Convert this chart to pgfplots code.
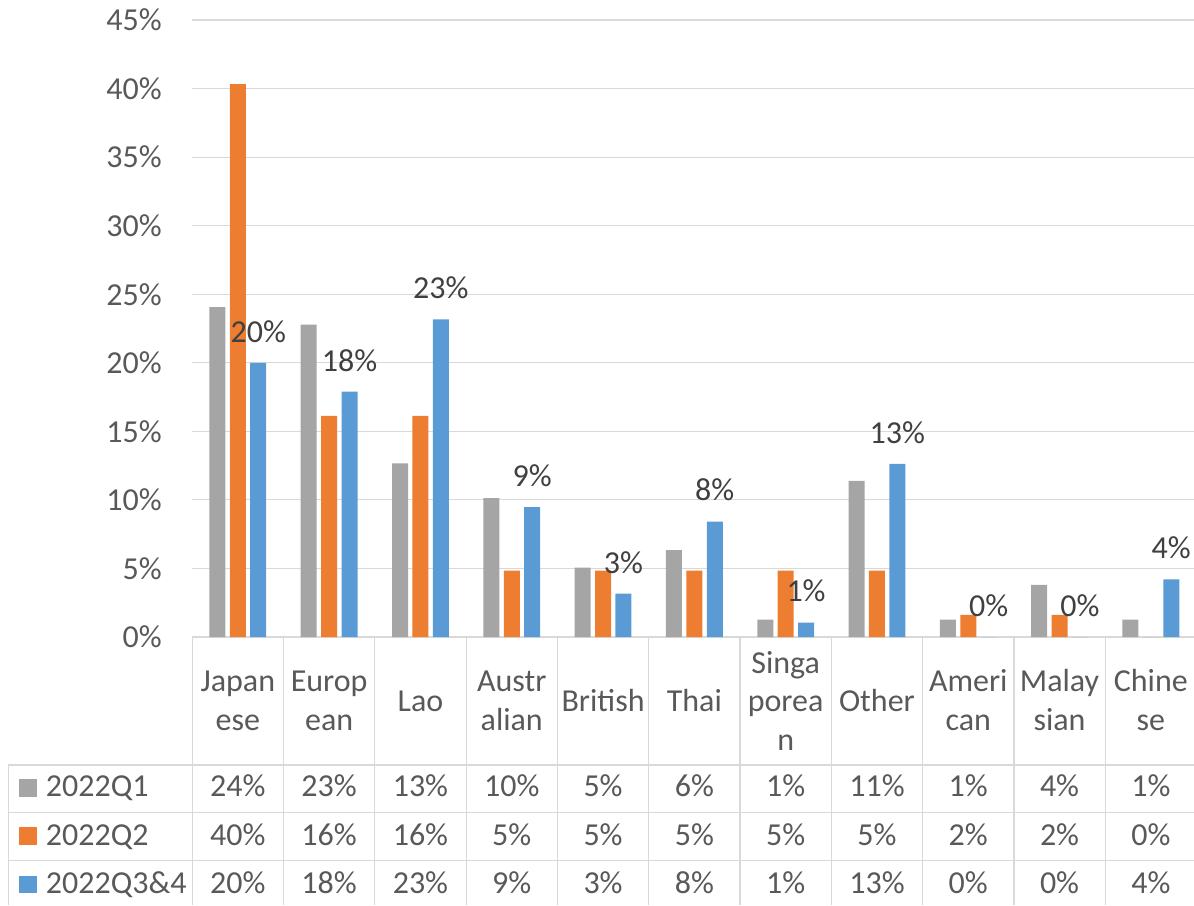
\documentclass[border=0pt]{standalone}
\usepackage{fontspec}
\setmainfont{Carlito}
\usepackage{pgfplots}
\pgfplotsset{compat=1.18}
\definecolor{sgray}{HTML}{A5A5A5}
\definecolor{sorange}{HTML}{ED7D31}
\definecolor{sblue}{HTML}{5B9BD5}
\definecolor{gridc}{HTML}{D9D9D9}
\definecolor{txt}{HTML}{595959}
\definecolor{lbl}{HTML}{404040}

\begin{document}
\begin{tikzpicture}[font=\fontsize{16pt}{19.2pt}\selectfont]
\begin{axis}[
  at={(0,0)}, anchor=south west, scale only axis,
  width=502.15pt, height=308.5pt,
  xmin=-0.5, xmax=10.5, ymin=0, ymax=45,
  ytick={0,5,...,45}, xtick=\empty,
  yticklabel={\pgfmathparse{int(round(\tick))}\pgfmathresult\%},
  yticklabel style={inner sep=0pt, xshift=-15pt, text=txt},
  ymajorgrids, grid style={gridc, line width=0.6pt},
  axis line style={draw=none}, major tick length=0pt,
  clip=false]
% 2022Q1
\addplot[ybar, bar width=8pt, bar shift=-10.2pt, fill=sgray, draw=none] coordinates
 {(0,24.05) (1,22.78) (2,12.66) (3,10.13) (4,5.06) (5,6.33) (6,1.27) (7,11.39) (8,1.27) (9,3.80) (10,1.27)};
% 2022Q2
\addplot[ybar, bar width=8pt, bar shift=0pt, fill=sorange, draw=none] coordinates
 {(0,40.32) (1,16.13) (2,16.13) (3,4.84) (4,4.84) (5,4.84) (6,4.84) (7,4.84) (8,1.61) (9,1.61) (10,0)};
% 2022Q3&4, with labels
\addplot[ybar, bar width=8pt, bar shift=10.2pt, fill=sblue, draw=none,
  point meta=y,
  nodes near coords={\pgfmathprintnumber[fixed,precision=0,assume math mode=true]{\pgfplotspointmeta}\%},
  nodes near coords style={text=lbl, anchor=south, inner sep=0pt, yshift=10pt, xshift=10.2pt}] coordinates
 {(0,20.00) (1,17.89) (2,23.16) (3,9.47) (4,3.16) (5,8.42) (6,1.05) (7,12.63) (8,0) (9,0) (10,4.21)};
\end{axis}

% data table below the plot
\foreach \k in {0,...,11}
  \draw[gridc, line width=0.6pt] ({\k*45.65pt},0pt) -- ({\k*45.65pt},-134pt);
\foreach \y in {-64,-87.85,-111.85}
  \draw[gridc, line width=0.6pt] (-91.85pt,\y pt) -- (502.15pt,\y pt);
\draw[gridc, line width=0.6pt] (-91.85pt,-64pt) -- (-91.85pt,-134pt);

\tikzset{cat/.style={anchor=base, inner sep=0pt, text=txt}}
\node[cat] at (22.825pt,-27.35pt) {Japan};
\node[cat] at (22.825pt,-46.5pt) {ese};
\node[cat] at (68.475pt,-27.35pt) {Europ};
\node[cat] at (68.475pt,-46.5pt) {ean};
\node[cat] at (114.125pt,-37.25pt) {Lao};
\node[cat] at (159.775pt,-27.35pt) {Austr};
\node[cat] at (159.775pt,-46.5pt) {alian};
\node[cat] at (205.425pt,-37.25pt) {British};
\node[cat] at (251.075pt,-37.25pt) {Thai};
\node[cat] at (296.725pt,-18pt) {Singa};
\node[cat] at (296.725pt,-37.25pt) {porea};
\node[cat] at (296.725pt,-56.5pt) {n};
\node[cat] at (342.375pt,-37.25pt) {Other};
\node[cat] at (388.025pt,-27.35pt) {Ameri};
\node[cat] at (388.025pt,-46.5pt) {can};
\node[cat] at (433.675pt,-27.35pt) {Malay};
\node[cat] at (433.675pt,-46.5pt) {sian};
\node[cat] at (479.325pt,-27.35pt) {Chine};
\node[cat] at (479.325pt,-46.5pt) {se};

\foreach \v [count=\i from 0] in {24,23,13,10,5,6,1,11,1,4,1}
  \node[cat] at ({22.825pt+\i*45.65pt},-79.85pt) {\v\%};
\foreach \v [count=\i from 0] in {40,16,16,5,5,5,5,5,2,2,0}
  \node[cat] at ({22.825pt+\i*45.65pt},-104pt) {\v\%};
\foreach \v [count=\i from 0] in {20,18,23,9,3,8,1,13,0,0,4}
  \node[cat] at ({22.825pt+\i*45.65pt},-128.15pt) {\v\%};

\fill[sgray] (-86.6pt,-79.85pt) rectangle ++(8.85pt,8.85pt);
\fill[sorange] (-86.6pt,-104pt) rectangle ++(8.85pt,8.85pt);
\fill[sblue] (-86.6pt,-128.15pt) rectangle ++(8.85pt,8.85pt);
\node[anchor=base west, inner sep=0pt, text=txt] at (-73.35pt,-79.85pt) {2022Q1};
\node[anchor=base west, inner sep=0pt, text=txt] at (-73.35pt,-104pt) {2022Q2};
\node[anchor=base west, inner sep=0pt, text=txt] at (-73.35pt,-128.15pt) {2022Q3\&4};

\pgfresetboundingbox
\path (-96.1pt,-134pt) rectangle (500.9pt,318.5pt);
\end{tikzpicture}
\end{document}
